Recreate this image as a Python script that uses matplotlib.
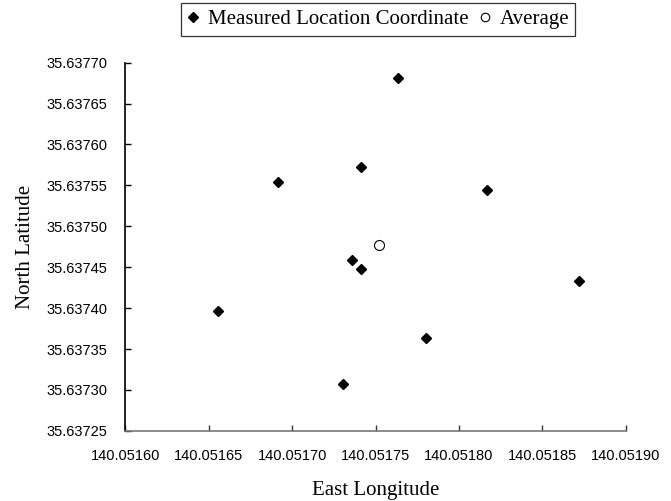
"""Scatter of measured location coordinates with their average."""

import matplotlib
matplotlib.use("Agg")
import matplotlib.pyplot as plt
from matplotlib.ticker import FormatStrFormatter

# measured points
east_lon = [140.0517636, 140.0517412, 140.0516913, 140.0518166, 140.0517360,
            140.0517412, 140.0516557, 140.0518721, 140.0517802, 140.0517303]
north_lat = [35.6376810, 35.6375723, 35.6375547, 35.6375446, 35.6374583,
             35.6374478, 35.6373969, 35.6374335, 35.6373636, 35.6373078]

avg_lon = [140.0517523]
avg_lat = [35.6374771]

x_ticks = [140.05160, 140.05165, 140.05170, 140.05175, 140.05180, 140.05185, 140.05190]
y_ticks = [35.63725, 35.63730, 35.63735, 35.63740, 35.63745, 35.63750,
           35.63755, 35.63760, 35.63765, 35.63770]

SERIF = "Liberation Serif"
SANS = "Liberation Sans"

fig = plt.figure(figsize=(6.71, 5.01), dpi=100)
ax = fig.add_axes([0.187, 0.140, 0.7455, 0.735])

ax.plot(east_lon, north_lat, linestyle="none", marker="D", markersize=5.6,
        color="black", label="Measured Location Coordinate")
ax.plot(avg_lon, avg_lat, linestyle="none", marker="o", markersize=7.2,
        markerfacecolor="white", markeredgecolor="black", markeredgewidth=0.8,
        label="Average")

ax.set_xlim(x_ticks[0], x_ticks[-1])
ax.set_ylim(y_ticks[0], y_ticks[-1])
ax.set_xticks(x_ticks)
ax.set_yticks(y_ticks)
ax.xaxis.set_major_formatter(FormatStrFormatter("%.5f"))
ax.yaxis.set_major_formatter(FormatStrFormatter("%.5f"))

for lbl in ax.get_xticklabels() + ax.get_yticklabels():
    lbl.set_fontfamily(SANS)
    lbl.set_fontsize(10.5)

ax.tick_params(axis="both", direction="in", length=4, width=1, pad=13)
ax.tick_params(axis="x", colors="#333333", labelcolor="black")

ax.spines["top"].set_visible(False)
ax.spines["right"].set_visible(False)
ax.spines["left"].set_color("black")
ax.spines["bottom"].set_color("#777777")
ax.spines["left"].set_linewidth(1.2)
ax.spines["bottom"].set_linewidth(1.2)

ax.set_xlabel("East Longitude", family=SERIF, fontsize=15, labelpad=13)
ax.set_ylabel("North Latitude", family=SERIF, fontsize=15, labelpad=8)

leg = ax.legend(loc="center", bbox_to_anchor=(378 / 671, 1 - 19.5 / 501),
                bbox_transform=fig.transFigure, ncol=2, frameon=True,
                fancybox=False, prop={"family": SERIF, "size": 15},
                handlelength=0.6, handletextpad=0.4, columnspacing=0.5,
                borderpad=0.3, markerscale=0.85)
leg.get_frame().set_edgecolor("black")
leg.get_frame().set_linewidth(0.9)

fig.savefig("out.png", dpi=100)
